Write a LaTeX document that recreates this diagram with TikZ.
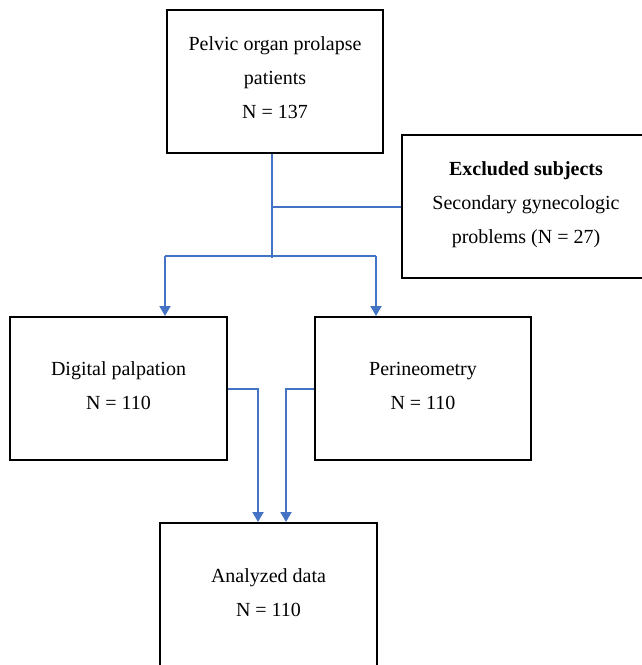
\documentclass[tikz,border=0pt]{standalone}
\usepackage{fontspec}
\setmainfont{Liberation Serif}
\usetikzlibrary{arrows.meta}
\definecolor{linkblue}{HTML}{4472C4}
\begin{document}
\begin{tikzpicture}[x=1pt,y=-1pt,
  box/.style={draw=black,line width=2pt,minimum height=143pt,align=center,
    inner sep=0pt,font=\fontsize{20}{34}\selectfont},
  conn/.style={draw=linkblue,line width=2pt},
  arr/.style={conn,-{Triangle[width=11pt,length=10pt]}}]
\useasboundingbox (0,0) rectangle (641,665);
\node[box,minimum width=216pt,text depth=7pt] (top) at (275,81.5) {Pelvic organ prolapse\\patients\\N = 137};
\node[box,minimum width=248pt,text depth=8pt] (excl) at (526,206.5) {\textbf{Excluded subjects}\\Secondary gynecologic\\problems (N = 27)};
\node[box,minimum width=217pt,text depth=6pt] (dig) at (118.5,388.5) {Digital palpation\\N = 110};
\node[box,minimum width=216pt,text depth=6pt] (per) at (423,388.5) {Perineometry\\N = 110};
\node[box,minimum width=217pt,text depth=4pt] (ana) at (268.5,594.5) {Analyzed data\\N = 110};
\coordinate (j1) at (272,207);
\coordinate (j2) at (272,258);
\coordinate (bl) at (165,256);
\coordinate (br) at (376,256);
\coordinate (ml) at (258,0);
\coordinate (mr) at (286,0);
\draw[conn] (top.south -| j1) -- (j2);
\draw[conn] (j1) -- (j1 -| excl.west);
\draw[conn] (bl) -- (br);
\draw[arr] (bl) -- (bl |- dig.north);
\draw[arr] (br) -- (br |- per.north);
\draw[arr] (dig.east) -| (ana.north -| ml);
\draw[arr] (per.west) -| (ana.north -| mr);
\end{tikzpicture}
\end{document}
